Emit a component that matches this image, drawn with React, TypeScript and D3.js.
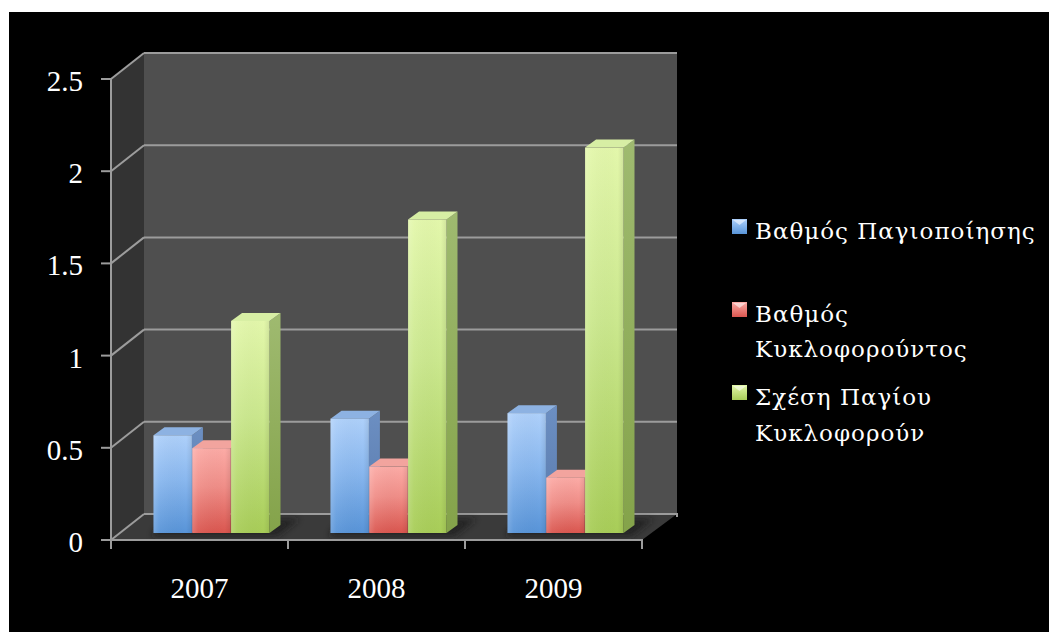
import React from "react";
import * as d3 from "d3";

const categories = ["2007", "2008", "2009"];
const seriesNames = ["Βαθμός Παγιοποίησης", "Βαθμός Κυκλοφορούντος", "Σχέση Παγίου Κυκλοφορούν"];
const legendLines = [["Βαθμός Παγιοποίησης"], ["Βαθμός", "Κυκλοφορούντος"], ["Σχέση Παγίου", "Κυκλοφορούν"]];
const blueValues = [0.53, 0.62, 0.65];
const redValues = [0.46, 0.36, 0.3];
const greenValues = [1.15, 1.7, 2.09];
const yTicks = [0, 0.5, 1, 1.5, 2, 2.5];
const yTickLabels = ["0", "0.5", "1", "1.5", "2", "2.5"];

const W = 1049;
const H = 632;

const seriesStyles = [
  { id: "b", frontTop: "#aed0fa", frontMid: "#8ab8ef", frontBot: "#5894d8", side: "#6c8fc2", sideBot: "#5879ab", top: "#8db2e2" },
  { id: "r", frontTop: "#fcaba6", frontMid: "#f08e88", frontBot: "#da564f", side: "#c0706c", sideBot: "#a95752", top: "#f2a49e" },
  { id: "g", frontTop: "#e3f7ab", frontMid: "#cbe88e", frontBot: "#a8cd58", side: "#9fba70", sideBot: "#84a34a", top: "#d7eea4" },
];

export default function App() {
  const allValues = [blueValues, redValues, greenValues];
  const xFront0 = 111;
  const xFront1 = 642;
  const depth = { dx: 33, dy: -26 };
  const y = d3.scaleLinear().domain([0, 2.5]).range([540, 79]);
  const xBand = d3.scaleBand<string>().domain(categories).range([xFront0, xFront1]).paddingInner(0).paddingOuter(0);
  const groupW = 116;
  const barInner = d3.scaleBand<number>().domain([0, 1, 2]).range([0, groupW]).paddingInner(0.01);
  const barOff = { dx: 12, dy: -7 };
  const barDepth = { dx: 11, dy: -8 };
  const gridColor = "#9c9c9c";

  const yBottom = y(0) + barOff.dy;

  const pts = (arr: number[][]) => arr.map((p) => p.join(",")).join(" ");

  return (
    <svg width={W} height={H} style={{ position: "absolute", left: 0, top: 0 }} xmlns="http://www.w3.org/2000/svg">
      <defs>
        {seriesStyles.map((s) => (
          <React.Fragment key={s.id}>
            <linearGradient id={`front-${s.id}`} x1="0" y1="0" x2="0" y2="1">
              <stop offset="0%" stopColor={s.frontTop} />
              <stop offset="45%" stopColor={s.frontMid} />
              <stop offset="100%" stopColor={s.frontBot} />
            </linearGradient>
            <linearGradient id={`side-${s.id}`} x1="0" y1="0" x2="0" y2="1">
              <stop offset="0%" stopColor={s.side} />
              <stop offset="100%" stopColor={s.sideBot} />
            </linearGradient>
            <linearGradient id={`leg-${s.id}`} x1="0" y1="0" x2="0" y2="1">
              <stop offset="0%" stopColor={s.frontTop} />
              <stop offset="100%" stopColor={s.frontBot} />
            </linearGradient>
          </React.Fragment>
        ))}
        <linearGradient id="hl" x1="0" y1="0" x2="1" y2="0">
          <stop offset="0%" stopColor="#ffffff" stopOpacity={0.18} />
          <stop offset="15%" stopColor="#ffffff" stopOpacity={0.05} />
          <stop offset="85%" stopColor="#000000" stopOpacity={0} />
          <stop offset="100%" stopColor="#000000" stopOpacity={0.08} />
        </linearGradient>
        <filter id="blur" x="-20%" y="-50%" width="140%" height="200%">
          <feGaussianBlur stdDeviation="3" />
        </filter>
      </defs>

      <rect x={0} y={0} width={W} height={H} fill="#ffffff" />
      <rect x={9} y={12} width={W - 9} height={H - 12} fill="#000000" />

      {/* back wall */}
      <rect
        x={xFront0 + depth.dx}
        y={y(2.5) + depth.dy}
        width={xFront1 + 2 - xFront0}
        height={y(0) - y(2.5)}
        fill="#4f4f4f"
      />
      {/* side wall */}
      <polygon
        points={pts([
          [xFront0, y(2.5)],
          [xFront0 + depth.dx, y(2.5) + depth.dy],
          [xFront0 + depth.dx, y(0) + depth.dy],
          [xFront0, y(0)],
        ])}
        fill="#333333"
      />
      {/* floor */}
      <polygon
        points={pts([
          [xFront0, y(0)],
          [xFront0 + depth.dx, y(0) + depth.dy],
          [xFront1 + 2 + depth.dx, y(0) + depth.dy],
          [xFront1, y(0)],
        ])}
        fill="#3a3a3a"
      />

      {/* gridlines */}
      {yTicks.map((t) => (
        <g key={`g${t}`} stroke={gridColor} strokeWidth={2} fill="none">
          <line x1={xFront0} y1={y(t)} x2={xFront0 + depth.dx} y2={y(t) + depth.dy} />
          <line x1={xFront0 + depth.dx} y1={y(t) + depth.dy} x2={xFront1 + 2 + depth.dx} y2={y(t) + depth.dy} />
          <line x1={xFront0 - 10} y1={y(t)} x2={xFront0} y2={y(t)} />
        </g>
      ))}
      <line x1={xFront1 + 2 + depth.dx} y1={y(0) + depth.dy - 1} x2={xFront1 + 2 + depth.dx} y2={y(0) + depth.dy + 3} stroke={gridColor} strokeWidth={2} />

      {/* shadows */}
      {categories.map((c) => {
        const cx = (xBand(c) as number) + xBand.bandwidth() / 2;
        const left = cx - groupW / 2 + barOff.dx;
        return (
          <polygon
            key={`sh${c}`}
            points={pts([
              [left - 2, yBottom + 3],
              [left + groupW + 8, yBottom + 3],
              [left + groupW + 30, yBottom - 14],
              [left + 10, yBottom - 14],
            ])}
            fill="#1c1c1c"
            opacity={0.75}
            filter="url(#blur)"
          />
        );
      })}

      {/* front axis */}
      <line x1={xFront0} y1={y(2.5) - 1} x2={xFront0} y2={y(0) + 8} stroke={gridColor} strokeWidth={2} />
      <line x1={xFront0 - 1} y1={y(0)} x2={xFront1 + 1} y2={y(0)} stroke={gridColor} strokeWidth={2} />
      {[...categories.map((c) => xBand(c) as number), xFront1].map((xv, i) => (
        <line key={`xt${i}`} x1={xv} y1={y(0)} x2={xv} y2={y(0) + 9} stroke={gridColor} strokeWidth={2} />
      ))}

      {/* bars */}
      {categories.map((c, ci) => {
        const cx = (xBand(c) as number) + xBand.bandwidth() / 2;
        return (
          <g key={`cat${c}`}>
            {allValues.map((vals, si) => {
              const s = seriesStyles[si];
              const bw = barInner.bandwidth();
              const x = cx - groupW / 2 + (barInner(si) as number) + barOff.dx;
              const yTop = y(vals[ci]) + barOff.dy;
              const dx = barDepth.dx;
              const dy = barDepth.dy;
              return (
                <g key={`bar${si}`}>
                  <polygon
                    points={pts([
                      [x + bw, yTop],
                      [x + bw + dx, yTop + dy],
                      [x + bw + dx, yBottom + dy],
                      [x + bw, yBottom],
                    ])}
                    fill={`url(#side-${s.id})`}
                  />
                  <polygon
                    points={pts([
                      [x, yTop],
                      [x + dx, yTop + dy],
                      [x + bw + dx, yTop + dy],
                      [x + bw, yTop],
                    ])}
                    fill={s.top}
                  />
                  <rect x={x} y={yTop} width={bw} height={yBottom - yTop} fill={`url(#front-${s.id})`} />
                  <rect x={x} y={yTop} width={bw} height={yBottom - yTop} fill="url(#hl)" />
                </g>
              );
            })}
          </g>
        );
      })}

      {/* y labels */}
      {yTicks.map((t, i) => (
        <text
          key={`yl${t}`}
          x={83}
          y={y(t) + 12}
          textAnchor="end"
          fill="#ffffff"
          fontFamily="'Liberation Serif', 'Times New Roman', serif"
          fontSize={29}
        >
          {yTickLabels[i]}
        </text>
      ))}

      {/* x labels */}
      {categories.map((c) => (
        <text
          key={`xl${c}`}
          x={(xBand(c) as number) + xBand.bandwidth() / 2}
          y={598}
          textAnchor="middle"
          fill="#ffffff"
          fontFamily="'Liberation Serif', 'Times New Roman', serif"
          fontSize={29}
        >
          {c}
        </text>
      ))}

      {/* legend */}
      {legendLines.map((lines, i) => {
        const baselines = [[239], [322, 357], [405, 441]][i];
        const s = seriesStyles[i];
        const sy = baselines[0] - 20;
        return (
          <g key={`leg${i}`}>
            <title>{seriesNames[i]}</title>
            <rect x={732} y={sy} width={15} height={15} fill={`url(#leg-${s.id})`} />
            <polygon
              points={pts([
                [733, sy + 1],
                [746, sy + 1],
                [739.5, sy + 6],
              ])}
              fill="#ffffff"
              opacity={0.55}
            />
            {lines.map((ln, li) => (
              <text
                key={`ll${li}`}
                x={755}
                y={baselines[li]}
                fill="#ffffff"
                fontFamily="'DejaVu Serif', serif"
                fontSize={23}
                letterSpacing={1.0}
              >
                {ln}
              </text>
            ))}
          </g>
        );
      })}
    </svg>
  );
}
